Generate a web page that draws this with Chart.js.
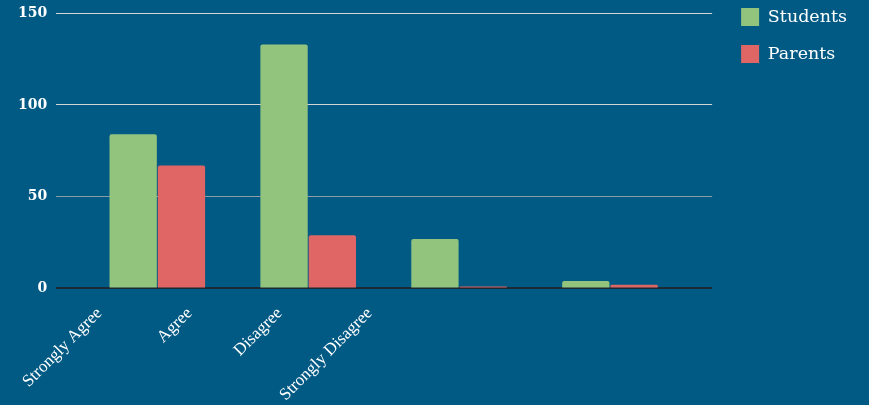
<!DOCTYPE html>
<html>
<head>
<meta charset="utf-8">
<script src="https://cdn.jsdelivr.net/npm/chart.js@4"></script>
<style>
  html, body { margin: 0; padding: 0; background: #015a84; }
  canvas { display: block; }
</style>
</head>
<body>
<canvas id="surveyChart" width="869" height="405"></canvas>
<script>
// survey answers
const categories = ['Strongly Agree', 'Agree', 'Disagree', 'Strongly Disagree'];
const students = [84, 133, 27, 4];
const parents = [67, 29, 1, 2];
const yTicks = [0, 50, 100, 150];

const serif = '"DejaVu Serif", "Liberation Serif", serif';

// bars sit on a linear x so the groups can be spaced freely
const toPoints = (vals) => vals.map((v, i) => ({ x: i, y: v }));
const indexTicks = (scale) => {
    scale.ticks = categories.map((c, i) => ({ value: i }));
};

// gridline colour per tick: dark baseline, grey first line, light rest
const gridColor = (v) => v === 0 ? '#1b2a35' : (v === 50 ? '#8c9ca6' : '#d2d4d6');

// nudge the legend up/right of where chart.js puts it
const legendShift = {
    id: 'legendShift',
    afterLayout(chart) {
        const lg = chart.legend;
        if (!lg) return;
        lg.top -= 12; lg.bottom -= 12;
        lg.left += 10; lg.right += 10;
    }
};

const ctx = document.getElementById('surveyChart').getContext('2d');
const chart = new Chart(ctx, {
    type: 'bar',
    data: {
        datasets: [{
            label: 'Students',
            data: toPoints(students),
            backgroundColor: '#93c47d',
            borderWidth: 0,
            borderRadius: 2,
            categoryPercentage: 0.64,
            barPercentage: 0.98
        }, {
            label: 'Parents',
            data: toPoints(parents),
            backgroundColor: '#e06666',
            borderWidth: 0,
            borderRadius: 2,
            categoryPercentage: 0.64,
            barPercentage: 0.98
        }]
    },
    plugins: [legendShift],
    options: {
        responsive: false,
        animation: false,
        layout: {
            padding: { top: 1, right: 22, bottom: -7, left: 9 }
        },
        scales: {
            x: {
                type: 'linear',
                display: false,
                offset: false,
                min: -0.67,
                max: 3.677,
                afterBuildTicks: indexTicks
            },
            // label axis, spaced tighter than the bar groups
            xl: {
                type: 'linear',
                position: 'bottom',
                offset: false,
                min: -0.48,
                max: 6.8,
                grid: { display: false },
                border: { display: false },
                afterBuildTicks: indexTicks,
                ticks: {
                    autoSkip: false,
                    minRotation: 45,
                    maxRotation: 45,
                    padding: 7,
                    color: '#ffffff',
                    font: { family: '"Liberation Serif", serif', size: 17 },
                    callback: function (value) {
                        return categories[value] !== undefined ? categories[value] : '';
                    }
                }
            },
            y: {
                min: 0,
                max: 150,
                afterBuildTicks: function (scale) {
                    scale.ticks = yTicks.map(v => ({ value: v }));
                },
                border: { display: false },
                grid: {
                    drawTicks: false,
                    color: function (c) {
                        return c.tick ? gridColor(c.tick.value) : '#d2d4d6';
                    },
                    lineWidth: function (c) {
                        return c.tick && c.tick.value === 0 ? 2 : 1;
                    }
                },
                ticks: {
                    padding: 9,
                    color: '#ffffff',
                    font: { family: serif, size: 14, weight: 'bold', lineHeight: 0.6 }
                }
            }
        },
        plugins: {
            legend: {
                position: 'right',
                align: 'start',
                labels: {
                    boxWidth: 18,
                    boxHeight: 18,
                    padding: 19,
                    color: '#ffffff',
                    font: { family: serif, size: 17.5 }
                }
            },
            tooltip: { enabled: false }
        }
    }
});
</script>
</body>
</html>
